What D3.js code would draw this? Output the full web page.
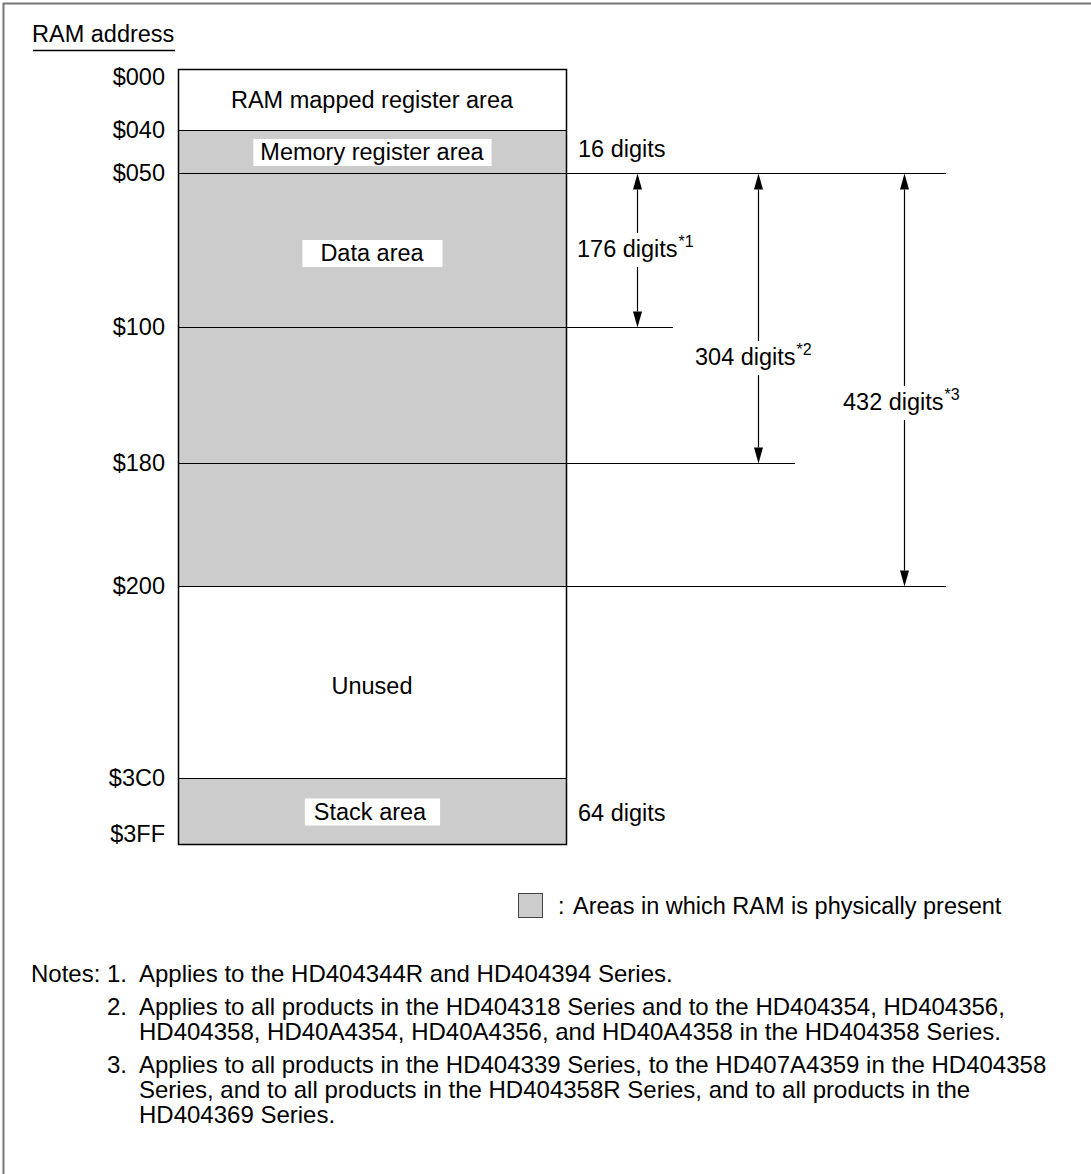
<!DOCTYPE html>
<html>
<head>
<meta charset="utf-8">
<script src="https://cdn.jsdelivr.net/npm/d3@7"></script>
<style>
  html, body { margin: 0; padding: 0; background: #fff; }
  text { font-family: "Liberation Sans", Arial, Helvetica, sans-serif; fill: #000; }
</style>
</head>
<body>
<svg id="chart" width="1091" height="1174"></svg>
<script>
// ---------------- data ----------------
const addresses = [0x000, 0x040, 0x050, 0x100, 0x180, 0x200, 0x3C0, 0x3FF];
const addressLabels = ["$000", "$040", "$050", "$100", "$180", "$200", "$3C0", "$3FF"];

const regionStart = [0x000, 0x040, 0x050, 0x200, 0x3C0];
const regionEnd   = [0x040, 0x050, 0x200, 0x3C0, 0x3FF];
const regionNames = ["RAM mapped register area", "Memory register area", "Data area", "Unused", "Stack area"];
const regionPresent = [false, true, true, false, true];
// address span used to place each region's label
const labelSpanStart = [0x000, 0x040, 0x050, 0x200, 0x3C0];
const labelSpanEnd   = [0x040, 0x050, 0x100, 0x3C0, 0x3FF];

const sizeNotes = ["16 digits", "64 digits"];
const sizeNoteStart = [0x040, 0x3C0];
const sizeNoteEnd = [0x050, 0x3FF];

// dimension arrows (from $050 to end address)
const spanFrom = [0x050, 0x050, 0x050];
const spanTo = [0x100, 0x180, 0x200];
const spanDigits = [176, 304, 432];
const spanNote = ["*1", "*2", "*3"];

const notesText = [
  ["Applies to the HD404344R and HD404394 Series."],
  ["Applies to all products in the HD404318 Series and to the HD404354, HD404356,",
   "HD404358, HD40A4354, HD40A4356, and HD40A4358 in the HD404358 Series."],
  ["Applies to all products in the HD404339 Series, to the HD407A4359 in the HD404358",
   "Series, and to all products in the HD404358R Series, and to all products in the",
   "HD404369 Series."]
];
const legendText = "Areas in which RAM is physically present";

// ---------------- layout ----------------
const FS = 23.5;
const GRAY = "#cccccc";
const svg = d3.select("#chart");

// schematic (piecewise) address scale
const y = d3.scaleLinear()
  .domain(addresses)
  .range([69, 130, 173, 327, 463, 586, 778, 844]);

const boxL = 178, boxR = 566, boxC = (boxL + boxR) / 2;

// outer frame
svg.append("path")
  .attr("d", "M3.5,1174 V3.5 H1091")
  .attr("fill", "none").attr("stroke", "#777").attr("stroke-width", 2);

// title
svg.append("text").attr("x", 32).attr("y", 42).attr("font-size", FS).text("RAM address");
svg.append("line").attr("x1", 33).attr("x2", 175).attr("y1", 50.5).attr("y2", 50.5)
  .attr("stroke", "#000").attr("stroke-width", 1.5);

// regions
const regions = regionNames.map((n, i) => ({
  name: n, s: regionStart[i], e: regionEnd[i], present: regionPresent[i],
  ls: labelSpanStart[i], le: labelSpanEnd[i]
}));

svg.selectAll("rect.region").data(regions).join("rect")
  .attr("class", "region")
  .attr("x", boxL).attr("width", boxR - boxL)
  .attr("y", d => y(d.s)).attr("height", d => y(d.e) - y(d.s))
  .attr("fill", d => d.present ? GRAY : "#fff");

// horizontal separators across box + extension lines
const extEnd = {};
extEnd[0x050] = 946; extEnd[0x100] = 673; extEnd[0x180] = 795; extEnd[0x200] = 946;
svg.selectAll("line.sep").data(addresses.slice(1, -1)).join("line")
  .attr("class", "sep")
  .attr("x1", boxL).attr("x2", d => extEnd[d] || boxR)
  .attr("y1", d => Math.round(y(d)) + 0.5).attr("y2", d => Math.round(y(d)) + 0.5)
  .attr("stroke", "#000").attr("stroke-width", 1.2);

// outer box
svg.append("rect")
  .attr("x", boxL + 0.5).attr("y", y(0x000) + 0.5)
  .attr("width", boxR - boxL).attr("height", y(0x3FF) - y(0x000))
  .attr("fill", "none").attr("stroke", "#000").attr("stroke-width", 1.5);

// region labels
const labelPadL = [0, 7, 18, 0, 9];
const labelPadR = [0, 7, 18, 0, 13];
const labelDy = [8.5, 8.5, 11, 12, 8.5];
regions.forEach((d, i) => {
  const cy = (y(d.ls) + y(d.le)) / 2 + labelDy[i] - 8.5;
  const t = svg.append("text")
    .attr("x", boxC - (labelPadR[i] - labelPadL[i]) / 2).attr("y", cy + 8.5)
    .attr("text-anchor", "middle").attr("font-size", FS).text(d.name);
  if (d.present) {
    const bb = t.node().getBBox();
    svg.insert("rect", () => t.node())
      .attr("x", bb.x - labelPadL[i]).attr("y", cy - 12.5)
      .attr("width", bb.width + labelPadL[i] + labelPadR[i]).attr("height", 27)
      .attr("fill", "#fff");
  }
});

// address labels
svg.selectAll("text.addr").data(addresses).join("text")
  .attr("class", "addr")
  .attr("x", 165)
  .attr("y", (d, i) => i === 0 ? y(d) + 16 : (i === addresses.length - 1 ? y(d) - 2 : y(d) + 8))
  .attr("text-anchor", "end").attr("font-size", FS)
  .text((d, i) => addressLabels[i]);

// size notes (16 digits, 64 digits)
const sizeNoteDy = [5.5, 9.5];
sizeNotes.forEach((s, i) => {
  const cy = (y(sizeNoteStart[i]) + y(sizeNoteEnd[i])) / 2;
  svg.append("text").attr("x", 578).attr("y", cy + sizeNoteDy[i]).attr("font-size", FS).text(s);
});

// dimension arrows
const arrowX = [637, 758, 904];
const labelX = [577, 695, 843];
const labelBaseline = [257, 365, 410];
const AW = 4.5, AH = 16;
spanDigits.forEach((dg, i) => {
  const y1 = y(spanFrom[i]) + 0.5, y2 = y(spanTo[i]) + 0.5;
  const x = arrowX[i] + 0.5;
  const by = labelBaseline[i];
  const t = svg.append("text").attr("x", labelX[i]).attr("y", by).attr("font-size", FS);
  t.append("tspan").text(dg + " digits");
  t.append("tspan").attr("font-size", 16).attr("dy", -10).attr("dx", 1).text(spanNote[i]);
  const gapTop = by - 24, gapBot = by + 10;
  svg.append("line").attr("x1", x).attr("x2", x).attr("y1", y1 + AH).attr("y2", gapTop)
    .attr("stroke", "#000").attr("stroke-width", 1.2);
  svg.append("line").attr("x1", x).attr("x2", x).attr("y1", gapBot).attr("y2", y2 - AH)
    .attr("stroke", "#000").attr("stroke-width", 1.2);
  svg.append("path").attr("d", `M${x},${y1} L${x - AW},${y1 + AH} L${x + AW},${y1 + AH} Z`).attr("fill", "#000");
  svg.append("path").attr("d", `M${x},${y2} L${x - AW},${y2 - AH} L${x + AW},${y2 - AH} Z`).attr("fill", "#000");
});

// legend
svg.append("rect").attr("x", 518.5).attr("y", 893.5).attr("width", 24).attr("height", 24)
  .attr("fill", GRAY).attr("stroke", "#444").attr("stroke-width", 1);
svg.append("text").attr("x", 558).attr("y", 914).attr("font-size", FS).text(":");
svg.append("text").attr("x", 573).attr("y", 914).attr("font-size", FS).text(legendText);

// notes
const NFS = 24;
svg.append("text").attr("x", 31).attr("y", 982).attr("font-size", NFS).text("Notes:");
let ny = 982;
notesText.forEach((lines, i) => {
  if (i > 0) ny += 33;
  svg.append("text").attr("x", 107).attr("y", ny).attr("font-size", NFS).text((i + 1) + ".");
  lines.forEach((ln, j) => {
    if (j > 0) ny += 25;
    svg.append("text").attr("x", 139).attr("y", ny).attr("font-size", NFS).text(ln);
  });
});
</script>
</body>
</html>
